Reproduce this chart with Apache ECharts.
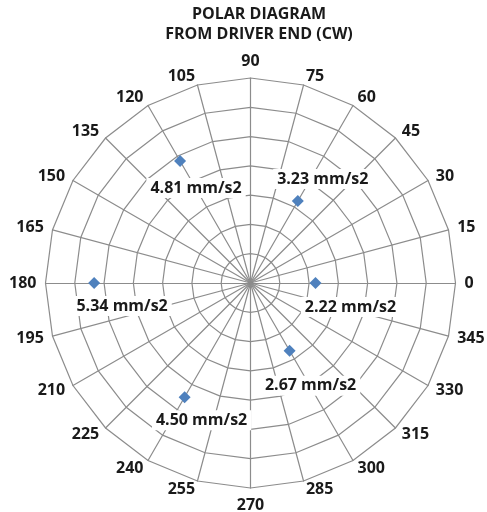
<!DOCTYPE html>
<html>
<head>
<meta charset="utf-8">
<script src="https://cdn.jsdelivr.net/npm/echarts@6/dist/echarts.min.js"></script>
<style>
  html, body { margin: 0; padding: 0; background: #fff; }
  #chart { width: 487px; height: 512px; }
</style>
</head>
<body>
<div id="chart"></div>
<script>
// Spoke labels, every 15 degrees counter-clockwise from the right
const angleLabels = ['0','15','30','45','60','75','90','105','120','135','150','165',
                     '180','195','210','225','240','255','270','285','300','315','330','345'];
// Measured vibration readings by angle (degrees) and amplitude (mm/s2)
const readingAngles = [0, 60, 120, 180, 240, 300];
const readingValues = [2.22, 3.23, 4.81, 5.34, 4.50, 2.67];
const unitText = 'mm/s2';
const ringMax = 7;

const CX = 250.5, CY = 283, R = 205;
const FONT = '"Open Sans", sans-serif';
const TXT = '#1a1a1a';

// where each value tag sits relative to its marker
const labelOffsets = [[35, 24], [25, -22], [16, 27], [28, 23], [17, 23], [21, 35]];

const chart = echarts.init(document.getElementById('chart'), null, { renderer: 'canvas' });

chart.setOption({
  animation: false,
  backgroundColor: '#fff',
  title: {
    text: 'POLAR DIAGRAM\nFROM DRIVER END (CW)',
    left: 254, top: -1, textAlign: 'center',
    textStyle: { fontFamily: FONT, fontSize: 16, fontWeight: 'bold', color: TXT, lineHeight: 20 }
  },
  radar: {
    center: [CX, CY],
    radius: R,
    startAngle: 0,
    shape: 'polygon',
    splitNumber: ringMax,
    nameGap: 9,
    indicator: angleLabels.map(n => ({ name: n, min: 0, max: ringMax })),
    axisName: { color: TXT, fontFamily: FONT, fontSize: 16, fontWeight: 'bold' },
    axisLine: { lineStyle: { color: '#8c8c8c', width: 1.2 } },
    splitLine: { lineStyle: { color: '#8c8c8c', width: 1.2 } },
    splitArea: { show: false },
    axisTick: { show: false },
    axisLabel: { show: false }
  },
  polar: { center: [CX, CY], radius: R },
  angleAxis: { type: 'value', min: 0, max: 360, startAngle: 0, clockwise: false, show: false },
  radiusAxis: { type: 'value', min: 0, max: ringMax, show: false },
  series: [{
    type: 'scatter',
    coordinateSystem: 'polar',
    symbol: 'diamond',
    symbolSize: 12,
    itemStyle: { color: '#4f81bd', opacity: 1 },
    data: readingValues.map((v, i) => ({
      value: [v, readingAngles[i]],
      label: { offset: labelOffsets[i] }
    })),
    label: {
      show: true,
      position: 'inside',
      formatter: p => p.value[0].toFixed(2) + ' ' + unitText,
      fontFamily: FONT, fontSize: 16, fontWeight: 'bold', color: TXT,
      backgroundColor: '#fff',
      padding: [2, 4]
    },
    z: 5
  }]
});
</script>
</body>
</html>
